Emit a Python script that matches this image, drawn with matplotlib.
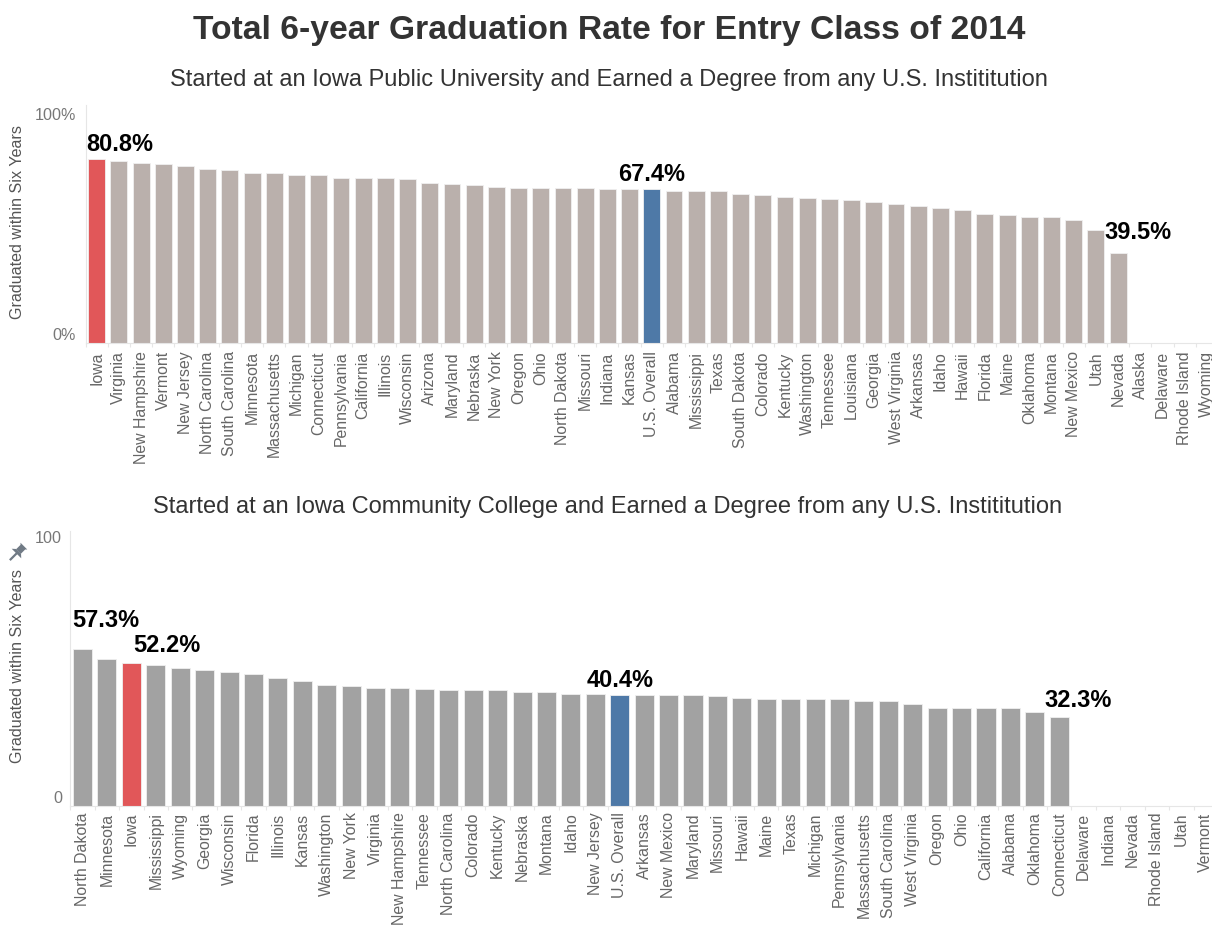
import numpy as np
import matplotlib
matplotlib.use("Agg")
import matplotlib.pyplot as plt
from matplotlib.patches import Polygon
from matplotlib.lines import Line2D

plt.rcParams['font.family'] = ['Liberation Sans', 'DejaVu Sans']

# ---------------- data ----------------
univ_states = ["Iowa", "Virginia", "New Hampshire", "Vermont", "New Jersey", "North Carolina",
               "South Carolina", "Minnesota", "Massachusetts", "Michigan", "Connecticut",
               "Pennsylvania", "California", "Illinois", "Wisconsin", "Arizona", "Maryland",
               "Nebraska", "New York", "Oregon", "Ohio", "North Dakota", "Missouri", "Indiana",
               "Kansas", "U.S. Overall", "Alabama", "Mississippi", "Texas", "South Dakota",
               "Colorado", "Kentucky", "Washington", "Tennessee", "Louisiana", "Georgia",
               "West Virginia", "Arkansas", "Idaho", "Hawaii", "Florida", "Maine", "Oklahoma",
               "Montana", "New Mexico", "Utah", "Nevada", "Alaska", "Delaware", "Rhode Island",
               "Wyoming"]
univ_values = [80.8, 79.8, 79.2, 78.6, 77.6, 76.4, 75.8, 74.8, 74.8, 73.6, 73.6, 72.6, 72.6,
               72.6, 72.0, 70.4, 69.8, 69.2, 68.7, 68.2, 68.2, 68.2, 68.2, 67.7, 67.5, 67.4,
               66.6, 66.6, 66.6, 65.4, 64.9, 64.3, 63.8, 63.2, 62.7, 62.1, 61.0, 60.0, 59.4,
               58.3, 56.7, 56.1, 55.5, 55.5, 53.9, 49.5, 39.5, np.nan, np.nan, np.nan, np.nan]

cc_states = ["North Dakota", "Minnesota", "Iowa", "Mississippi", "Wyoming", "Georgia",
             "Wisconsin", "Florida", "Illinois", "Kansas", "Washington", "New York", "Virginia",
             "New Hampshire", "Tennessee", "North Carolina", "Colorado", "Kentucky", "Nebraska",
             "Montana", "Idaho", "New Jersey", "U.S. Overall", "Arkansas", "New Mexico",
             "Maryland", "Missouri", "Hawaii", "Maine", "Texas", "Michigan", "Pennsylvania",
             "Massachusetts", "South Carolina", "West Virginia", "Oregon", "Ohio", "California",
             "Alabama", "Oklahoma", "Connecticut", "Delaware", "Indiana", "Nevada",
             "Rhode Island", "Utah", "Vermont"]
cc_values = [57.3, 53.6, 52.2, 51.2, 50.4, 49.4, 48.9, 48.1, 46.8, 45.4, 44.1, 43.6, 43.1,
             43.1, 42.6, 42.1, 42.1, 42.1, 41.6, 41.6, 40.8, 40.8, 40.4, 40.4, 40.4, 40.4,
             40.0, 39.5, 39.0, 39.0, 39.0, 39.0, 38.1, 38.1, 37.3, 35.8, 35.8, 35.8, 35.8,
             34.4, 32.3, np.nan, np.nan, np.nan, np.nan, np.nan, np.nan]

title = "Total 6-year Graduation Rate for Entry Class of 2014"
sub_univ = "Started at an Iowa Public University and Earned a Degree from any U.S. Instititution"
sub_cc = "Started at an Iowa Community College and Earned a Degree from any U.S. Instititution"
ylabel = "Graduated within Six Years"

RED = "#E15759"
BLUE = "#4E79A7"
GRAY_TOP = "#BAB0AC"
GRAY_BOT = "#A2A2A2"

W, H = 1212, 926
fig = plt.figure(figsize=(W / 100, H / 100), dpi=100)


def px_axes(left, right, top, bottom):
    return fig.add_axes([left / W, 1 - bottom / H, (right - left) / W, (bottom - top) / H])


def style_axes(ax, labels, n, pad):
    for s in ["top", "right"]:
        ax.spines[s].set_visible(False)
    ax.spines["left"].set_color("#e6e6e6")
    ax.spines["bottom"].set_color("#e6e6e6")
    ax.set_xlim(-0.5, n - 0.5)
    ax.set_xticks(range(n))
    ax.set_xticklabels(labels, rotation=90, fontsize=11.4, color="#666666")
    ax.tick_params(axis="x", which="major", length=0, pad=pad)
    ax.set_xticks(np.arange(n + 1) - 0.5, minor=True)
    ax.tick_params(axis="x", which="minor", length=3, color="#e6e6e6", width=0.8)
    ax.set_yticks([])


def colors_for(labels, base):
    out = []
    for s in labels:
        if s == "Iowa":
            out.append(RED)
        elif s == "U.S. Overall":
            out.append(BLUE)
        else:
            out.append(base)
    return out


# ---------------- top chart ----------------
ax1 = px_axes(85.6, 1218.0, 105.0, 343.0)
n1 = len(univ_states)
x1 = np.arange(n1)
ax1.bar(x1, np.nan_to_num(univ_values), width=0.76, color=colors_for(univ_states, GRAY_TOP),
        edgecolor="#f0f0f0", linewidth=0.6)
ax1.set_ylim(0, 104.5)
style_axes(ax1, univ_states, n1, 6.0)
ax1.annotate("100%", xy=(0, 100), xycoords=("axes fraction", "data"), xytext=(-7, 0),
             textcoords="offset points", ha="right", va="center", fontsize=11.6, color="#777777")
ax1.annotate("0%", xy=(0, 0), xycoords=("axes fraction", "data"), xytext=(-7, 0),
             textcoords="offset points", ha="right", va="bottom", fontsize=11.6, color="#777777")
fig.text(18 / W, 1 - 222 / H, ylabel, rotation=90, ha="center", va="center",
         fontsize=11.6, color="#555555")

lab_kw = dict(textcoords="offset points", fontsize=17, fontweight="bold", color="black",
              va="baseline")
i = univ_states.index("Iowa")
ax1.annotate(f"{univ_values[i]:.1f}%", xy=(i - 0.45, univ_values[i]), xytext=(0, 5.8),
             ha="left", **lab_kw)
i = univ_states.index("U.S. Overall")
ax1.annotate(f"{univ_values[i]:.1f}%", xy=(i, univ_values[i]), xytext=(0, 6),
             ha="center", **lab_kw)
i = univ_states.index("Nevada")
ax1.annotate(f"{univ_values[i]:.1f}%", xy=(i - 0.63, univ_values[i]), xytext=(0, 10),
             ha="left", **lab_kw)

# ---------------- bottom chart ----------------
ax2 = px_axes(70.3, 1218.0, 531.0, 806.0)
n2 = len(cc_states)
x2 = np.arange(n2)
ax2.bar(x2, np.nan_to_num(cc_values), width=0.78, color=colors_for(cc_states, GRAY_BOT),
        edgecolor="#f0f0f0", linewidth=0.6)
ax2.set_ylim(0, 100.2)
style_axes(ax2, cc_states, n2, 4.6)
ax2.annotate("100", xy=(0, 100.2), xycoords=("axes fraction", "data"), xytext=(-6, 0),
             textcoords="offset points", ha="right", va="top", fontsize=11.6, color="#777777")
ax2.annotate("0", xy=(0, 0), xycoords=("axes fraction", "data"), xytext=(-6, 0),
             textcoords="offset points", ha="right", va="bottom", fontsize=11.6, color="#777777")
fig.text(18 / W, 1 - 666 / H, ylabel, rotation=90, ha="center", va="center",
         fontsize=11.6, color="#555555")

i = cc_states.index("North Dakota")
ax2.annotate(f"{cc_values[i]:.1f}%", xy=(i - 0.44, cc_values[i]), xytext=(0, 15.6),
             ha="left", **lab_kw)
i = cc_states.index("Iowa")
ax2.annotate(f"{cc_values[i]:.1f}%", xy=(i + 0.06, cc_values[i]), xytext=(0, 7.5),
             ha="left", **lab_kw)
i = cc_states.index("U.S. Overall")
ax2.annotate(f"{cc_values[i]:.1f}%", xy=(i, cc_values[i]), xytext=(0, 6),
             ha="center", **lab_kw)
i = cc_states.index("Connecticut")
ax2.annotate(f"{cc_values[i]:.1f}%", xy=(i - 0.61, cc_values[i]), xytext=(0, 7.5),
             ha="left", **lab_kw)

# pushpin icon next to lower y-axis title (pixel coords)
cx, cy = 17.0, H - 553.0
sc = 1.5
th = np.deg2rad(-45)
rot = np.array([[np.cos(th), -np.sin(th)], [np.sin(th), np.cos(th)]]) * sc
head = np.array([[-2.2, 1.5], [2.2, 1.5], [2.2, 5.5], [3.2, 6.5], [-3.2, 6.5], [-2.2, 5.5]])
flare = np.array([[-4.5, -0.5], [4.5, -0.5], [2.2, 1.6], [-2.2, 1.6]])
for shp in (head, flare):
    pts = shp @ rot.T + np.array([cx, cy])
    fig.patches.append(Polygon(pts, closed=True, transform=None, facecolor="#707a85",
                               edgecolor="none"))
nd = np.array([[0, -0.5], [0, -6.0]]) @ rot.T + np.array([cx, cy])
fig.lines.append(Line2D(nd[:, 0], nd[:, 1], transform=None, color="#707a85", linewidth=1.6))

# ---------------- titles ----------------
fig.text(609 / W, 1 - 39 / H, title, ha="center", va="baseline", fontsize=24.2,
         fontweight="bold", color="#333333")
fig.text(609 / W, 1 - 86 / H, sub_univ, ha="center", va="baseline", fontsize=17,
         color="#333333")
fig.text(608 / W, 1 - 513 / H, sub_cc, ha="center", va="baseline", fontsize=17,
         color="#333333")

fig.savefig("out.png", dpi=100)
